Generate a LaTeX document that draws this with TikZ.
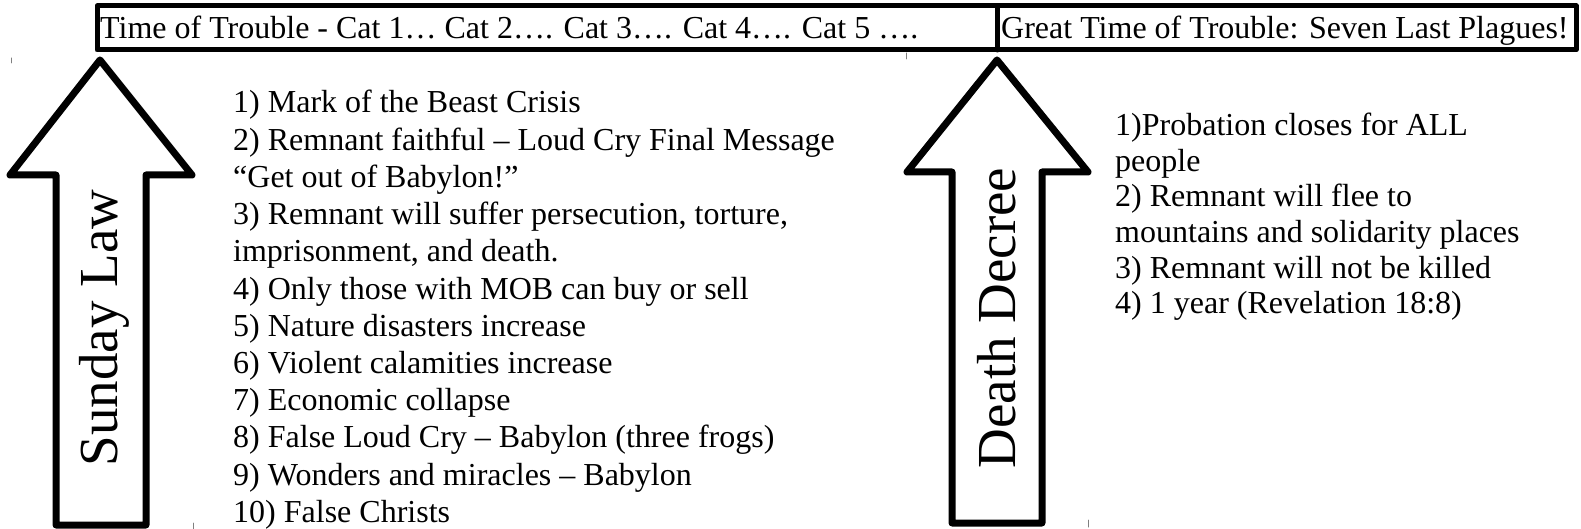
\documentclass[tikz,border=0pt]{standalone}
\usepackage{fontspec}
\setmainfont{Liberation Serif}
\begin{document}
\begin{tikzpicture}[line cap=round,line join=round,x=1pt,y=-1pt,
		txt/.style={anchor=base west,inner sep=0pt,font=\fontsize{32}{38}\selectfont},
		big/.style={anchor=base,inner sep=0pt,rotate=90,font=\fontsize{55}{60}\selectfont},
		blk/.style={line width=7pt},
		tick/.style={line width=1pt,gray}]
	\useasboundingbox (0,0) rectangle (1581,529);
	% top bar
	\draw[line width=5pt] (97,6) rectangle (1576,50);
	\draw[line width=5pt] (997,6) -- (997,50);
	\node[txt] (bar1) at (100,39) {Time of Trouble - Cat 1… Cat 2…. Cat 3…. Cat 4…. Cat 5 ….};
	\node[txt] (bar2) at (1001,39) {Great Time of Trouble: Seven Last Plagues!};
	% arrows
	\draw[blk] (100,60) -- (192,175) -- (146,175) -- (146,525) -- (56,525) -- (56,175) -- (10,175) -- cycle;
	\draw[blk] (997,60) -- (1088,172) -- (1042,172) -- (1042,523) -- (952,523) -- (952,172) -- (907,172) -- cycle;
	\node[big] (sunday) at (117,328) {Sunday Law};
	\node[big] (death) at (1015,318) {Death Decree};
	% lists
	\foreach \t [count=\i] in {{1) Mark of the Beast Crisis},{2) Remnant faithful – Loud Cry Final Message},{“Get out of Babylon!”},{3) Remnant will suffer persecution, torture,},{imprisonment, and death.},{4) Only those with MOB can buy or sell},{5) Nature disasters increase},{6) Violent calamities increase},{7) Economic collapse},{8) False Loud Cry – Babylon (three frogs)},{9) Wonders and miracles – Babylon},{10) False Christs}}
		\node[txt] (l\i) at (233,{113+37.2*(\i-1)}) {\t};
	\foreach \t [count=\i] in {{1)Probation closes for ALL},{people},{2) Remnant will flee to},{mountains and solidarity places},{3) Remnant will not be killed},{4) 1 year (Revelation 18:8)}}
		\node[txt] (r\i) at (1115,{136+35.5*(\i-1)}) {\t};
	% ticks
	\draw[tick] (11,58) -- (11,63) (906,53) -- (906,59) (193,523) -- (193,529) (1088,520) -- (1088,527);
\end{tikzpicture}
\end{document}
